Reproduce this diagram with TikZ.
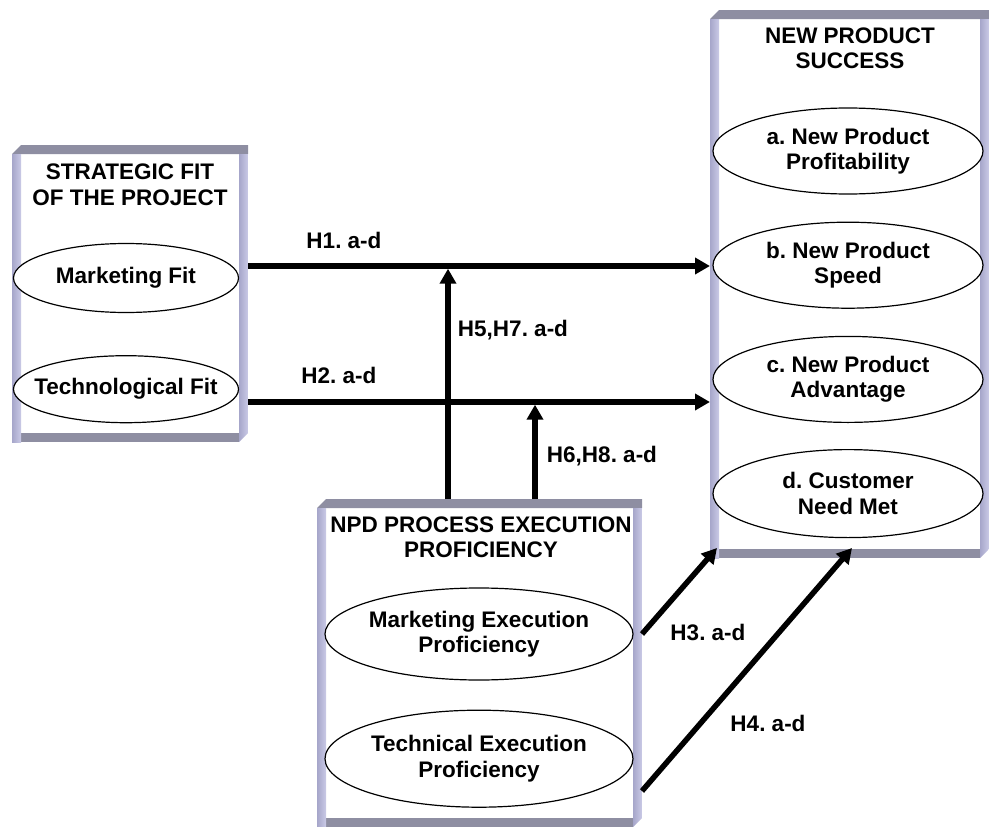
\documentclass[tikz,border=0pt]{standalone}
\usepackage{fontspec}
\setmainfont{Liberation Sans}
\frenchspacing
\usetikzlibrary{shapes.geometric,arrows.meta,positioning}
\definecolor{lavender}{HTML}{CACAE6}
\definecolor{lavdark}{HTML}{A6A6CA}
\definecolor{slate}{HTML}{8E8EA2}

\tikzset{
  txt/.style={font=\bfseries\fontsize{22.5}{25.5}\selectfont, align=center, inner sep=0pt},
  frame box/.style={rectangle, inner sep=0pt, outer sep=0pt, fill=white,
    path picture={
      \coordinate (nw) at (path picture bounding box.north west);
      \coordinate (se) at (path picture bounding box.south east);
      \coordinate (ne) at (se |- nw);
      \coordinate (sw) at (nw |- se);
      % top and bottom bands
      \fill[slate] ([yshift=-9pt]nw) -- ([xshift=9pt]nw) -- (ne) -- ([yshift=-9pt]ne) -- cycle;
      \fill[slate] ([xshift=9pt]sw) -- ([shift={(9pt,9pt)}]sw) -- ([shift={(-9pt,9pt)}]se) -- ([xshift=-9pt]se) -- cycle;
      % side bands
      \shade[left color=lavdark, right color=lavender] ([yshift=-9pt]nw) -- ([shift={(9pt,-9pt)}]nw) -- ([xshift=9pt]sw) -- (sw) -- cycle;
      \shade[left color=lavdark, right color=lavender] ([shift={(-9pt,-9pt)}]ne) -- ([yshift=-9pt]ne) -- ([yshift=9pt]se) -- ([xshift=-9pt]se) -- cycle;
    }},
  oval/.style 2 args={ellipse, draw, line width=1.2pt, fill=white, txt,
    inner xsep=-40pt, minimum width=#1, minimum height=#2}
}

\begin{document}
\begin{tikzpicture}[x=1pt,y=-1pt,>={Triangle[length=15pt,width=16pt]},
                    arrow line/.style={->,line width=5.5pt}]
  \useasboundingbox (0,0) rectangle (989,827);

  % the three boxes
  \node[frame box, minimum width=236pt, minimum height=297pt] (sf) at (130,293.5) {};
  \node[frame box, minimum width=279pt, minimum height=548pt] (nps) at (849.5,284) {};
  \node[frame box, minimum width=325pt, minimum height=328pt] (npd) at (479.5,663) {};

  \node[txt] (sft) at (130,185) {STRATEGIC FIT\\OF THE PROJECT};
  \node[txt] (npst) at (850,48.5) {NEW PRODUCT\\SUCCESS};
  \node[txt] (npdt) at (481,537.5) {NPD PROCESS EXECUTION\\PROFICIENCY};

  % strategic fit
  \node[oval={225pt}{69pt}] (mf) at (126,278) {Marketing Fit};
  \node[oval={225pt}{67pt}] (tf) [below=42pt of mf] {Technological Fit};

  % new product success
  \node[oval={270pt}{86pt}] (pa) at (848,151) {a. New Product\\Profitability};
  \node[oval={270pt}{86pt}] (pb) [below=27pt of pa] {b. New Product\\Speed};
  \node[oval={270pt}{86pt}] (pc) [below=27pt of pb] {c. New Product\\Advantage};
  \node[oval={270pt}{88pt}] (pd) [below=26pt of pc] {d. Customer\\Need Met};

  % execution proficiency
  \node[oval={308pt}{92pt}] (me) at (479,634) {Marketing Execution\\Proficiency};
  \node[oval={308pt}{97pt}] (te) [below=29pt of me] {Technical Execution\\Proficiency};

  \coordinate (h1) at (0,266);
  \coordinate (h2) at (0,402);
  \coordinate (v1) at (448,0);
  \coordinate (v2) at (535,0);

  \path[arrow line]
    (sf.east |- h1) edge (nps.west |- h1)
    (sf.east |- h2) edge (nps.west |- h2)
    (npd.north -| v1) edge[shorten >=2.7pt] (v1 |- h1)
    (npd.north -| v2) edge[shorten >=2.7pt] (v2 |- h2)
    (npd.east |- me) edge ([shift={(7pt,10pt)}]nps.south west)
    ([yshift=-128pt]npd.east) edge ([shift={(2.5pt,10pt)}]nps.south);

  \node[txt] (l1) at (344,240) {H1. a-d};
  \node[txt] (l2) at (339,375) {H2. a-d};
  \node[txt] (l57) at (513,330) {H5,H7. a-d};
  \node[txt] (l68) at (602,456) {H6,H8. a-d};
  \node[txt] (l3) at (708,632) {H3. a-d};
  \node[txt] (l4) at (768,723) {H4. a-d};
\end{tikzpicture}
\end{document}
